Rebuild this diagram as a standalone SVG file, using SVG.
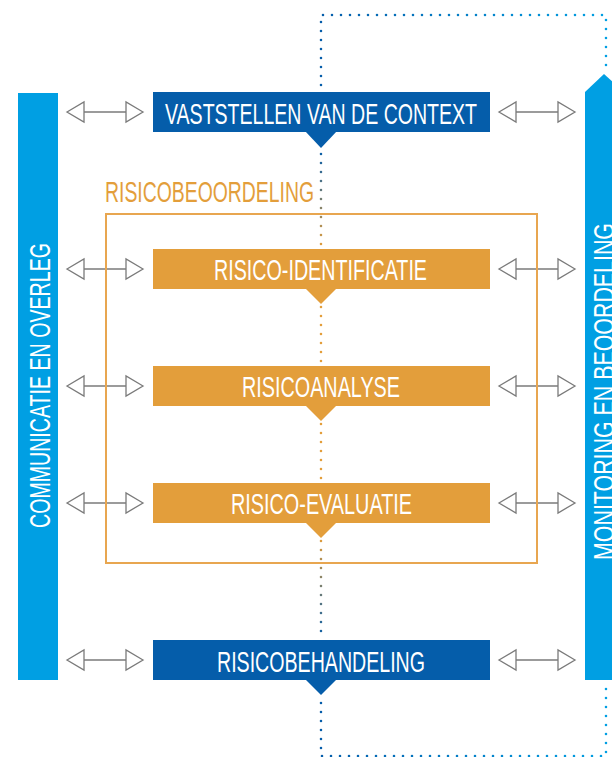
<svg xmlns="http://www.w3.org/2000/svg" width="612" height="757" viewBox="0 0 612 757">
<style>
.dk{fill:#055DAA}
.lb{fill:#009FE3}
.or{fill:#E39E3B}
.t{font-family:"Liberation Sans","Open Sans",sans-serif;fill:#ffffff;font-size:30px;text-anchor:middle}
.vt{font-family:"Liberation Sans","Open Sans",sans-serif;fill:#ffffff;font-size:30px;text-anchor:middle}
.dot{fill:none;stroke-width:2.6;stroke-linecap:round;stroke-dasharray:0 9}
.arr{fill:#ffffff;stroke:#7a7a7a;stroke-width:1.3;stroke-linejoin:miter}
</style>
<defs>
<linearGradient id="gH" x1="321" y1="0" x2="606" y2="0" gradientUnits="userSpaceOnUse">
<stop offset="0" stop-color="#055DAA"/>
<stop offset="1" stop-color="#009FE3"/>
</linearGradient>
<linearGradient id="gV" x1="0" y1="150" x2="0" y2="640" gradientUnits="userSpaceOnUse">
<stop offset="0" stop-color="#055DAA"/>
<stop offset="0.2" stop-color="#E39E3B"/>
<stop offset="0.79" stop-color="#E39E3B"/>
<stop offset="1" stop-color="#055DAA"/>
</linearGradient>
<g id="dbl" class="arr">
<path d="M17,0 H59"/>
<path d="M0,0 L17,-10 L17,10 Z"/>
<path d="M76,0 L59,-10 L59,10 Z"/>
</g>
</defs>

<g id="connectors">
<path class="dot" stroke="url(#gH)" d="M321,85 V15 H606 V68"/>
<path class="dot" stroke="url(#gV)" d="M321,154 V640"/>
<path class="dot" stroke="url(#gH)" d="M321,703 V756 H606 V687"/>
<use href="#dbl" x="67" y="112"/>
<use href="#dbl" x="67" y="269"/>
<use href="#dbl" x="67" y="386"/>
<use href="#dbl" x="67" y="503"/>
<use href="#dbl" x="67" y="660"/>
<use href="#dbl" x="499" y="112"/>
<use href="#dbl" x="499" y="269"/>
<use href="#dbl" x="499" y="386"/>
<use href="#dbl" x="499" y="503"/>
<use href="#dbl" x="499" y="660"/>
</g>

<g id="risicobeoordeling">
<rect x="106" y="214" width="431" height="349" fill="none" stroke="#E8A650" stroke-width="2"/>
<text x="105" y="202" font-family="Liberation Sans, Open Sans, sans-serif" font-size="30" fill="#E39E3B" textLength="209" lengthAdjust="spacingAndGlyphs">RISICOBEOORDELING</text>
</g>

<g id="communicatie">
<rect class="lb" x="18" y="93" width="40" height="587"/>
<text class="vt" transform="translate(50,385.5) rotate(-90)" textLength="285" lengthAdjust="spacingAndGlyphs">COMMUNICATIE EN OVERLEG</text>
</g>

<g id="monitoring">
<polygon class="lb" points="585,92 604,74 624,92 624,680 585,680"/>
<text class="vt" transform="translate(614,391.5) rotate(-90)" textLength="337" lengthAdjust="spacingAndGlyphs">MONITORING EN BEOORDELING</text>
</g>

<g id="context">
<rect class="dk" x="153" y="92" width="337" height="40"/>
<polygon class="dk" points="305,131 337,131 321,148"/>
<text class="t" x="321" y="124" textLength="312" lengthAdjust="spacingAndGlyphs">VASTSTELLEN VAN DE CONTEXT</text>
</g>

<g id="identificatie">
<rect class="or" x="153" y="249" width="337" height="40"/>
<polygon class="or" points="305,288 337,288 321,304"/>
<text class="t" x="320.5" y="280" textLength="213" lengthAdjust="spacingAndGlyphs">RISICO-IDENTIFICATIE</text>
</g>

<g id="analyse">
<rect class="or" x="153" y="366" width="337" height="40"/>
<polygon class="or" points="305,405 337,405 321,421"/>
<text class="t" x="321" y="397" textLength="158" lengthAdjust="spacingAndGlyphs">RISICOANALYSE</text>
</g>

<g id="evaluatie">
<rect class="or" x="153" y="483" width="337" height="40"/>
<polygon class="or" points="305,522 337,522 321,538"/>
<text class="t" x="321.5" y="514" textLength="181" lengthAdjust="spacingAndGlyphs">RISICO-EVALUATIE</text>
</g>

<g id="behandeling">
<rect class="dk" x="153" y="640" width="337" height="40"/>
<polygon class="dk" points="305,679 337,679 321,695"/>
<text class="t" x="321" y="672" textLength="208" lengthAdjust="spacingAndGlyphs">RISICOBEHANDELING</text>
</g>
</svg>
